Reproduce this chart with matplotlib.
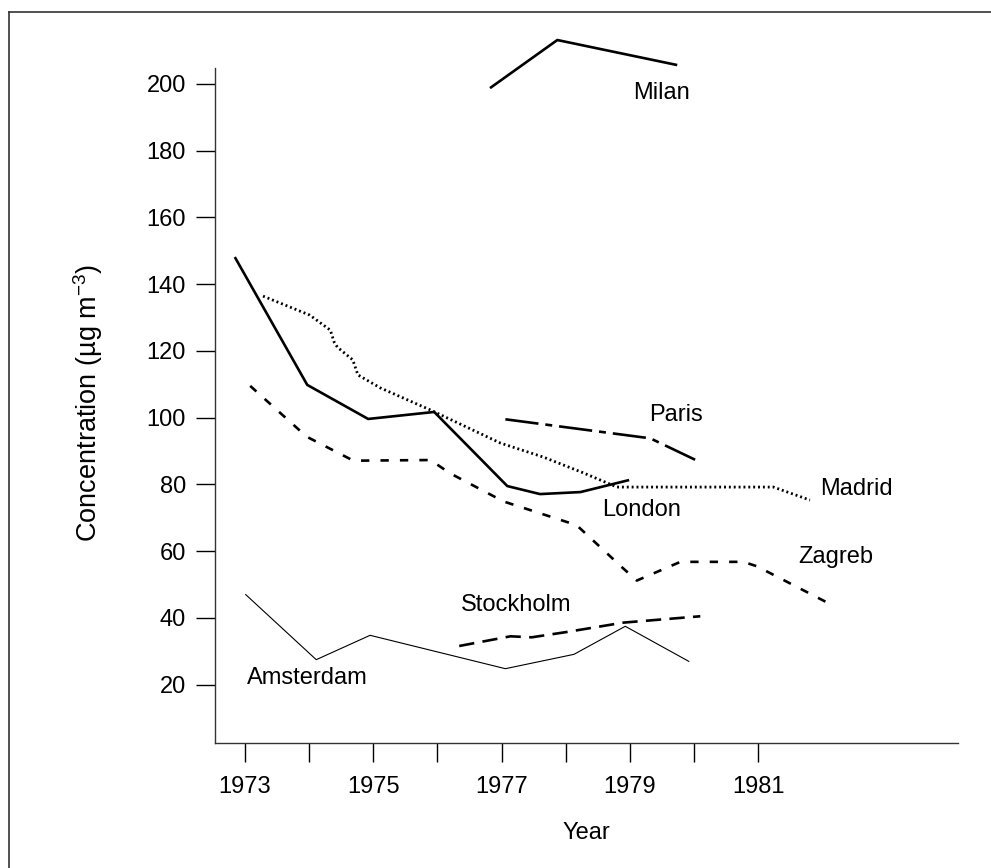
import matplotlib
matplotlib.use("Agg")
import matplotlib.pyplot as plt
from matplotlib.lines import Line2D

plt.rcParams['font.family'] = ['Liberation Sans', 'DejaVu Sans']
plt.rcParams['mathtext.fontset'] = 'custom'
plt.rcParams['mathtext.rm'] = 'Liberation Sans'
plt.rcParams['mathtext.it'] = 'Liberation Sans'
plt.rcParams['mathtext.default'] = 'regular'
plt.rcParams['lines.scale_dashes'] = False

# ---- data (year, concentration) ----
milan_x = [1976.82, 1977.87, 1979.74]
milan_y = [198.7, 213.1, 205.6]

london_x = [1972.84, 1973.97, 1974.92, 1975.95, 1977.09, 1977.60, 1978.23, 1978.99]
london_y = [148.1, 109.8, 99.6, 101.7, 79.5, 77.1, 77.7, 81.3]

madrid_x = [1973.28, 1974.01, 1974.33, 1974.39, 1974.44, 1974.68, 1974.76, 1975.11,
            1975.89, 1976.98, 1977.65, 1978.27, 1978.80, 1981.24, 1981.81]
madrid_y = [136.4, 130.7, 126.2, 122.6, 121.1, 117.3, 112.8, 108.9,
            102.3, 92.4, 88.2, 83.5, 79.2, 79.2, 75.3]

paris_x = [1977.06, 1979.32, 1980.05]
paris_y = [99.5, 93.8, 87.1]

zagreb_x = [1973.08, 1973.96, 1974.69, 1975.89, 1976.20, 1977.03, 1978.17, 1978.90,
            1979.11, 1979.79, 1980.77, 1980.98, 1982.10]
zagreb_y = [109.5, 94.3, 87.1, 87.3, 83.3, 74.9, 67.8, 54.8,
            51.2, 56.8, 56.8, 55.5, 44.4]

stockholm_x = [1976.34, 1977.14, 1977.47, 1978.02, 1978.90, 1980.10]
stockholm_y = [31.6, 34.5, 34.2, 35.8, 38.6, 40.5]

amsterdam_x = [1973.01, 1974.11, 1974.95, 1977.06, 1978.13, 1978.93, 1979.92]
amsterdam_y = [47.0, 27.5, 34.8, 24.8, 29.1, 37.5, 27.0]

city_labels = ["Milan", "Paris", "Madrid", "London", "Zagreb", "Stockholm", "Amsterdam"]
label_x = [1979.49, 1979.72, 1982.54, 1979.18, 1982.22, 1977.23, 1973.97]
label_y = [197.2, 100.8, 78.6, 72.3, 58.3, 43.9, 22.1]

xticks = [1973, 1974, 1975, 1976, 1977, 1978, 1979, 1980, 1981]
xticklabels = ["1973", "", "1975", "", "1977", "", "1979", "", "1981"]
yticks = [20, 40, 60, 80, 100, 120, 140, 160, 180, 200]

# ---- figure ----
fig = plt.figure(figsize=(9.91, 8.68), dpi=100)
ax = fig.add_axes([0.2170, 0.1440, 0.9667 - 0.2170, 0.9712 - 0.1440])

ax.plot(milan_x, milan_y, color='black', lw=1.9, solid_capstyle='butt')
ax.plot(london_x, london_y, color='black', lw=1.9, solid_capstyle='butt')
ax.plot(amsterdam_x, amsterdam_y, color='black', lw=0.8)
l_mad, = ax.plot(madrid_x, madrid_y, color='black', lw=2.0)
l_mad.set_dashes([1.4, 2.1])
l_par, = ax.plot(paris_x, paris_y, color='black', lw=1.9)
l_par.set_dashes([24, 5, 5, 5])
l_zag, = ax.plot(zagreb_x, zagreb_y, color='black', lw=1.9)
l_zag.set_dashes([6, 8])
l_sto, = ax.plot(stockholm_x, stockholm_y, color='black', lw=1.9)
l_sto.set_dashes([11, 6])

for t, x, y in zip(city_labels, label_x, label_y):
    ax.text(x, y, t, ha='center', va='center', fontsize=17, color='black')

ax.set_xlim(1972.532, 1984.119)
ax.set_ylim(2.54, 217.6)
ax.spines['top'].set_visible(False)
ax.spines['right'].set_visible(False)
ax.spines['left'].set_bounds(2.54, 204.7)
for s in ['left', 'bottom']:
    ax.spines[s].set_linewidth(1.0)
    ax.spines[s].set_color('#333333')

ax.set_xticks(xticks)
ax.set_xticklabels(xticklabels)
ax.set_yticks(yticks)
ax.tick_params(axis='x', direction='out', length=13.7, width=1.0, pad=10, labelsize=17)
ax.tick_params(axis='y', direction='out', length=14, width=1.0, pad=7, labelsize=17)

ax.set_xlabel("Year", fontsize=17, labelpad=17)
fig.text(88 / 991, 1 - 403 / 868, "Concentration (µg m$^{-3}$)", rotation=90,
         ha='center', va='center', fontsize=19.5)

# frame around figure (top and left edges visible)
fig.add_artist(Line2D([9 / 991, 1.0], [1 - 12 / 868, 1 - 12 / 868], transform=fig.transFigure,
                      color='#333333', lw=1.2))
fig.add_artist(Line2D([9 / 991, 9 / 991], [0.0, 1 - 12 / 868], transform=fig.transFigure,
                      color='#333333', lw=1.2))

fig.savefig("out.png", dpi=100)
